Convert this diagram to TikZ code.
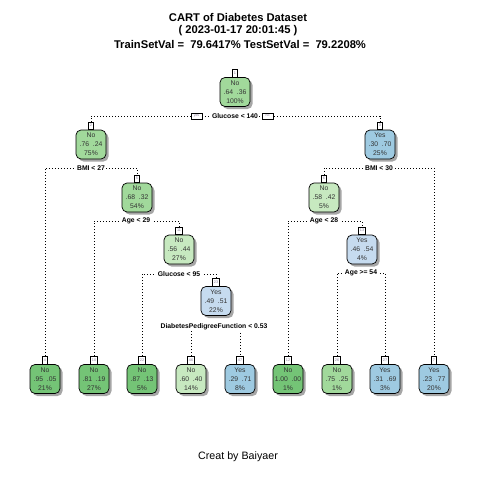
\documentclass[tikz,border=0pt]{standalone}
\usepackage{fontspec}
\setmainfont{Liberation Sans}
\usetikzlibrary{shadows}
\pgfdeclarelayer{bg}
\pgfsetlayers{bg,main}
\definecolor{gA}{HTML}{74C476}
\definecolor{gB}{HTML}{A1D99B}
\definecolor{gC}{HTML}{C7E9C0}
\definecolor{bA}{HTML}{9ECAE1}
\definecolor{bB}{HTML}{C6DBEF}
\definecolor{txt}{HTML}{333333}
\definecolor{numc}{HTML}{8A7F99}
\definecolor{shad}{HTML}{A6A6A6}
\tikzset{
 nbox/.style={draw=black, line width=0.7pt, rounded corners=5pt, minimum width=30pt, minimum height=29pt, inner sep=0pt, align=center, text=txt, font=\fontsize{6.8}{9}\selectfont, drop shadow={shadow xshift=2.5pt, shadow yshift=-2.5pt, fill=shad, opacity=1}},
 tabbox/.style={draw=black, line width=0.6pt, fill=white, minimum height=7.5pt, minimum width=5.5pt, inner xsep=1.6pt, inner ysep=0pt, font=\fontsize{3.8}{4}\selectfont, text=numc, anchor=south},
 split/.style={fill=white, inner xsep=1.5pt, inner ysep=1pt, font=\bfseries\fontsize{6.8}{8}\selectfont},
 conn/.style={line width=0.8pt, dash pattern=on 0.8pt off 2.2pt},
 yn/.style={draw=black, line width=0.6pt, fill=white, minimum width=11pt, minimum height=6pt, inner sep=0pt, font=\fontsize{3.5}{4}\selectfont, text=numc},
 ttl/.style={font=\bfseries\fontsize{11.2}{13}\selectfont},
}
\begin{document}
\begin{tikzpicture}[x=1pt,y=-1pt]
\useasboundingbox (0,0) rectangle (480,480);
% titles
\node[ttl] (title1) at (238,17) {CART of Diabetes Dataset};
\node[ttl] (title2) at (238,31) {( 2023-01-17 20:01:45 )};
\node[ttl] (title3) at (240,44) {TrainSetVal = \ 79.6417\% TestSetVal = \ 79.2208\%};
\node[font=\fontsize{10.7}{12}\selectfont] (foot) at (238,457) {Creat by Baiyaer};
% internal nodes
\node[nbox, fill=gB] (n1) at (235,92) {No\\.64\ \ .36\\100\%};
\node[nbox, fill=gB] (n2) at (91,144.5) {No\\.76\ \ .24\\75\%};
\node[nbox, fill=bA] (n3) at (380,144.5) {Yes\\.30\ \ .70\\25\%};
\node[nbox, fill=gB] (n5) at (137,197.5) {No\\.68\ \ .32\\54\%};
\node[nbox, fill=gC] (n6) at (324,197.5) {No\\.58\ \ .42\\5\%};
\node[nbox, fill=gC] (n11) at (179,249.5) {No\\.56\ \ .44\\27\%};
\node[nbox, fill=bB] (n13) at (362,249.5) {Yes\\.46\ \ .54\\4\%};
\node[nbox, fill=bB] (n23) at (216,301) {Yes\\.49\ \ .51\\22\%};
% leaves
\node[nbox, fill=gA] (n4) at (45,379) {No\\.95\ \ .05\\21\%};
\node[nbox, fill=gA] (n10) at (94,379) {No\\.81\ \ .19\\27\%};
\node[nbox, fill=gA] (n22) at (142,379) {No\\.87\ \ .13\\5\%};
\node[nbox, fill=gC] (n46) at (191,379) {No\\.60\ \ .40\\14\%};
\node[nbox, fill=bA] (n47) at (240,379) {Yes\\.29\ \ .71\\8\%};
\node[nbox, fill=gA] (n12) at (288,379) {No\\1.00\ \ .00\\1\%};
\node[nbox, fill=gB] (n26) at (337,379) {No\\.75\ \ .25\\1\%};
\node[nbox, fill=bA] (n27) at (385,379) {Yes\\.31\ \ .69\\3\%};
\node[nbox, fill=bA] (n7) at (434,379) {Yes\\.23\ \ .77\\20\%};
% tabs
\foreach \k in {1,2,3,4,5,6,7,10,11,12,13,22,23,26,27,46,47}{
  \node[tabbox] (t\k) at (n\k.north) {\k};
}
% split labels
\node[split] (s1) at (235,116) {Glucose < 140};
\node[yn] (yes) at (196.5,116) {yes};
\node[yn] (no) at (267.5,116) {no};
\node[split] (s2) at (91,168) {BMI < 27};
\node[split] (s3) at (379,168) {BMI < 30};
\node[split] (s5) at (136,221) {Age < 29};
\node[split] (s6) at (324,221) {Age < 28};
\node[split] (s11) at (179,274) {Glucose < 95};
\node[split] (s13) at (361,273) {Age >= 54};
\node[split] (s23) at (214,327) {DiabetesPedigreeFunction < 0.53};
% connectors
\begin{pgfonlayer}{bg}
\draw[conn] (t2.north) |- (s1.center) -| (t3.north);
\draw[conn] (t4.north) |- (s2.center) -| (t5.north);
\draw[conn] (t6.north) |- (s3.center) -| (t7.north);
\draw[conn] (t10.north) |- (s5.center) -| (t11.north);
\draw[conn] (t12.north) |- (s6.center) -| (t13.north);
\draw[conn] (t22.north) |- (s11.center) -| (t23.north);
\draw[conn] (t26.north) |- (s13.center) -| (t27.north);
\draw[conn] (t46.north) |- (s23.center) -| (t47.north);
\end{pgfonlayer}
\end{tikzpicture}
\end{document}
